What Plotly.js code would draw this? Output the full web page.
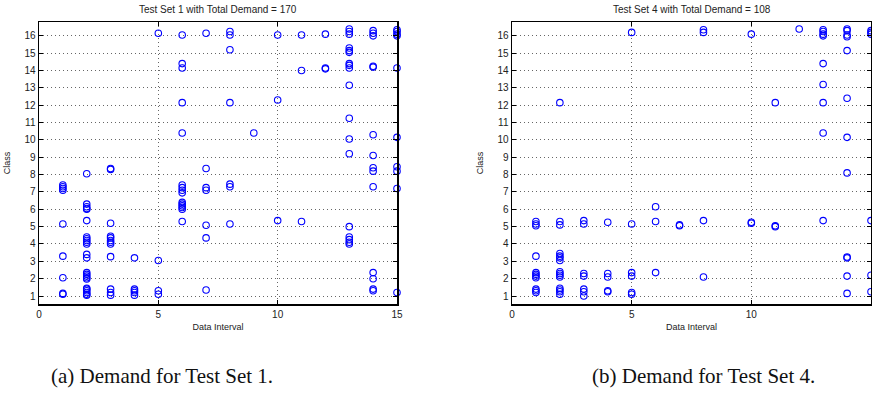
<!DOCTYPE html>
<html>
<head>
<meta charset="utf-8">
<script src="https://cdn.plot.ly/plotly-3.0.1.min.js"></script>
<style>
html,body{margin:0;padding:0;background:#fff;}
#chart{width:872px;height:417px;}
</style>
</head>
<body>
<div id="chart"></div>
<script>
// Test Set 1: data intervals and the classes demanded in each interval
const set1Intervals = [1, 2, 3, 4, 5, 6, 7, 8, 9, 10, 11, 12, 13, 14, 15];
const set1Classes = [
  [7.4, 7.3, 7.2, 7.1, 5.15, 3.3, 2.05, 1.15, 1.1],
  [8.05, 6.3, 6.15, 6.05, 6.0, 5.35, 4.4, 4.3, 4.2, 4.1, 4.0, 3.4, 3.2, 2.35, 2.25, 2.15, 2.05, 1.98, 1.45, 1.4, 1.3, 1.2, 1.1, 1.05],
  [8.3, 8.35, 5.2, 4.45, 4.35, 4.2, 4.1, 4.0, 3.27, 1.4, 1.2, 1.05],
  [3.2, 1.4, 1.3, 1.2, 1.05],
  [16.15, 3.05, 1.3, 1.1],
  [16.05, 14.4, 14.15, 12.15, 10.4, 7.4, 7.25, 7.1, 6.95, 6.4, 6.3, 6.2, 6.1, 6.0, 5.3],
  [16.15, 8.35, 7.25, 7.1, 5.08, 4.35, 1.35],
  [16.25, 16.05, 15.2, 12.15, 7.45, 7.3, 5.15],
  [10.4],
  [16.05, 12.3, 5.35],
  [16.05, 14.0, 5.3],
  [16.1, 14.15, 14.1],
  [16.4, 16.25, 16.1, 15.3, 15.15, 15.05, 14.4, 14.3, 14.15, 13.15, 11.25, 10.05, 9.2, 5.0, 4.4, 4.25, 4.1, 4.0],
  [16.3, 16.15, 16.0, 14.25, 14.2, 10.3, 9.1, 8.4, 8.2, 7.3, 2.35, 2.0, 1.4, 1.3],
  [16.35, 16.25, 16.1, 16.0, 14.15, 10.15, 8.45, 8.2, 7.2, 1.2]
];

// Test Set 4
const set4Intervals = [1, 2, 3, 4, 5, 6, 7, 8, 10, 11, 12, 13, 14, 15];
const set4Classes = [
  [5.3, 5.15, 5.05, 3.3, 2.35, 2.25, 2.15, 2.05, 1.4, 1.3, 1.2],
  [12.15, 5.3, 5.1, 3.45, 3.3, 3.2, 3.05, 2.4, 2.3, 2.2, 2.1, 1.45, 1.35, 1.25, 1.1],
  [5.35, 5.15, 2.3, 2.15, 1.4, 1.25, 1.0],
  [5.25, 2.3, 2.1, 1.3, 1.25],
  [16.2, 5.15, 2.35, 2.15, 1.2, 1.1],
  [6.15, 5.3, 2.35],
  [5.05, 5.1],
  [16.35, 16.2, 5.35, 2.1],
  [16.1, 5.25, 5.2],
  [12.15, 5.05, 5.0],
  [16.4],
  [16.35, 16.25, 16.1, 16.0, 14.4, 13.2, 12.15, 10.4, 5.35],
  [16.4, 16.3, 16.05, 15.95, 15.15, 12.4, 10.15, 8.1, 3.25, 3.2, 2.15, 1.15],
  [16.3, 16.2, 16.1, 5.35, 2.2, 1.25]
];

const titles = ["Test Set 1 with Total Demand = 170", "Test Set 4 with Total Demand = 108"];
const captions = ["(a) Demand for Test Set 1.", "(b) Demand for Test Set 4."];
const xTitle = "Data Interval";
const yTitle = "Class";
const xTicks = [0, 5, 10, 15];
const yTicks = [1, 2, 3, 4, 5, 6, 7, 8, 9, 10, 11, 12, 13, 14, 15, 16];

function flatten(intervals, classes) {
  const x = [], y = [];
  intervals.forEach((iv, i) => classes[i].forEach(c => { x.push(iv); y.push(c); }));
  return {x, y};
}

const s1 = flatten(set1Intervals, set1Classes);
const s4 = flatten(set4Intervals, set4Classes);

const markerStyle = {symbol: 'circle-open', size: 6.5, color: '#0000ff', line: {width: 1.1, color: '#0000ff'}};

const traces = [
  {x: s1.x, y: s1.y, xaxis: 'x', yaxis: 'y', mode: 'markers', type: 'scatter', marker: markerStyle, cliponaxis: false, hoverinfo: 'x+y'},
  {x: s4.x, y: s4.y, xaxis: 'x2', yaxis: 'y2', mode: 'markers', type: 'scatter', marker: markerStyle, cliponaxis: false, hoverinfo: 'x+y'}
];

const W = 872, H = 417;
const tickFont = {family: 'Liberation Sans, Arial, sans-serif', size: 10, color: '#222'};
const titleFont = {family: 'Liberation Sans, Arial, sans-serif', size: 9, color: '#222'};

function xaxis(domain, anchor) {
  return {
    domain: domain, anchor: anchor, range: [0, 15],
    tickmode: 'array', tickvals: xTicks, ticktext: xTicks.map(String),
    ticks: 'inside', ticklen: 4, tickwidth: 1, tickcolor: '#000',
    showline: true, linecolor: '#000', linewidth: 1.5, mirror: 'ticks',
    showgrid: true, gridcolor: '#666', griddash: '1px,3px', gridwidth: 1,
    zeroline: false, tickfont: tickFont,
    title: {text: xTitle, font: titleFont, standoff: 5}
  };
}
function yaxis(domain, anchor) {
  return {
    domain: domain, anchor: anchor, range: [0.54, 16.8],
    tickmode: 'array', tickvals: yTicks, ticktext: yTicks.map(String),
    ticks: 'inside', ticklen: 4, tickwidth: 1, tickcolor: '#000',
    showline: true, linecolor: '#000', linewidth: 1.5, mirror: 'ticks',
    showgrid: true, gridcolor: '#666', griddash: '1px,3px', gridwidth: 1,
    zeroline: false, tickfont: tickFont,
    title: {text: yTitle, font: titleFont, standoff: 12}
  };
}

const yDom = [(H - 304) / H, (H - 22) / H];
const layout = {
  width: W, height: H,
  margin: {l: 0, r: 0, t: 0, b: 0},
  paper_bgcolor: '#fff', plot_bgcolor: '#fff',
  showlegend: false,
  xaxis: xaxis([39 / W, 397 / W], 'y'),
  yaxis: yaxis(yDom, 'x'),
  xaxis2: xaxis([512 / W, 871 / W], 'y2'),
  yaxis2: yaxis(yDom, 'x2'),
  annotations: [
    {text: titles[0], xref: 'paper', yref: 'paper', x: 218 / W, y: (H - 10) / H, xanchor: 'center', yanchor: 'middle', showarrow: false, font: {family: 'Liberation Sans, Arial, sans-serif', size: 10, color: '#222'}},
    {text: titles[1], xref: 'paper', yref: 'paper', x: 692 / W, y: (H - 10) / H, xanchor: 'center', yanchor: 'middle', showarrow: false, font: {family: 'Liberation Sans, Arial, sans-serif', size: 10, color: '#222'}},
    {text: captions[0], xref: 'paper', yref: 'paper', x: 162 / W, y: (H - 376) / H, xanchor: 'center', yanchor: 'middle', showarrow: false, font: {family: 'Liberation Serif, Times New Roman, serif', size: 21, color: '#111'}},
    {text: captions[1], xref: 'paper', yref: 'paper', x: 703 / W, y: (H - 376) / H, xanchor: 'center', yanchor: 'middle', showarrow: false, font: {family: 'Liberation Serif, Times New Roman, serif', size: 21, color: '#111'}}
  ]
};

Plotly.newPlot('chart', traces, layout, {staticPlot: true, displayModeBar: false});
</script>
</body>
</html>
